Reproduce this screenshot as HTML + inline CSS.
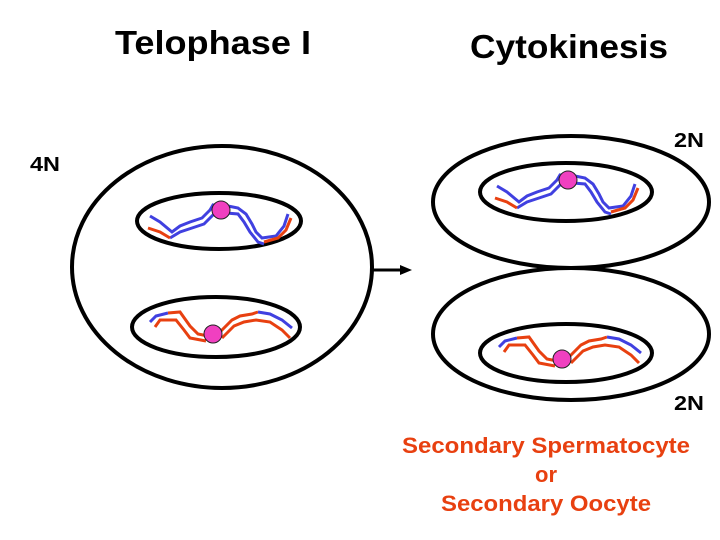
<!DOCTYPE html>
<html><head><style>body{margin:0;background:#fff}svg{display:block}</style></head><body>
<svg width="720" height="540" viewBox="0 0 720 540" font-family="Liberation Sans, Arial, sans-serif">
<defs>
<g id="chrA">
<path d="M150,216 L160,222 L172,232 L180,226 L190,222 L202,218 L210,210 L213,205 L222,207" fill="none" stroke="#4040e0" stroke-width="3"/>
<path d="M170,238 L180,232 L192,228 L204,224 L214,214 L222,212" fill="none" stroke="#4040e0" stroke-width="3"/>
<path d="M228,206 L238,208 L246,214 L252,224 L256,232 L262,238 L276,236 L284,226 L288,214" fill="none" stroke="#4040e0" stroke-width="3"/>
<path d="M226,213 L238,214 L244,222 L250,232 L258,242 L264,244" fill="none" stroke="#4040e0" stroke-width="3"/>
<path d="M148,228 L160,232 L170,238" fill="none" stroke="#e84010" stroke-width="3"/>
<path d="M264,242 L278,238 L286,230 L291,218" fill="none" stroke="#e84010" stroke-width="3"/>
<circle cx="221" cy="210" r="9" fill="#f040c0" stroke="#222" stroke-width="1"/>
</g>
<g id="chrB">
<path d="M150,322 L156,316 L168,313" fill="none" stroke="#4040e0" stroke-width="3"/>
<path d="M155,327 L160,320 L176,320 L184,330 L190,338 L206,341" fill="none" stroke="#e84010" stroke-width="3"/>
<path d="M168,313 L180,312 L190,326 L198,334 L208,336" fill="none" stroke="#e84010" stroke-width="3"/>
<path d="M220,332 L232,320 L240,316 L252,314 L258,312" fill="none" stroke="#e84010" stroke-width="3"/>
<path d="M222,338 L234,326 L244,322 L256,320 L270,322 L282,330 L290,338" fill="none" stroke="#e84010" stroke-width="3"/>
<path d="M258,312 L270,314 L282,320 L292,328" fill="none" stroke="#4040e0" stroke-width="3"/>
<circle cx="213" cy="334" r="9" fill="#f040c0" stroke="#222" stroke-width="1"/>
</g>
</defs>
<g font-weight="bold">
<text x="115" y="54" font-size="33" textLength="196" lengthAdjust="spacingAndGlyphs">Telophase I</text>
<text x="470" y="58" font-size="33" textLength="198" lengthAdjust="spacingAndGlyphs">Cytokinesis</text>
<text x="30" y="171" font-size="20" textLength="30" lengthAdjust="spacingAndGlyphs">4N</text>
<text x="674" y="147" font-size="20" textLength="30" lengthAdjust="spacingAndGlyphs">2N</text>
<text x="674" y="410" font-size="20" textLength="30" lengthAdjust="spacingAndGlyphs">2N</text>
</g>
<g fill="none" stroke="#000" stroke-width="4">
<ellipse cx="222" cy="267" rx="150" ry="121"/>
<ellipse cx="219" cy="221" rx="82" ry="28"/>
<ellipse cx="216" cy="327" rx="84" ry="30"/>
<ellipse cx="571" cy="202" rx="138" ry="66"/>
<ellipse cx="571" cy="334" rx="138" ry="66"/>
<ellipse cx="566" cy="192" rx="86" ry="29"/>
<ellipse cx="566" cy="353" rx="86" ry="29"/>
</g>
<line x1="373" y1="270" x2="402" y2="270" stroke="#000" stroke-width="3"/>
<polygon points="400,265 412,270 400,275" fill="#000"/>
<use href="#chrA"/>
<use href="#chrB"/>
<use href="#chrA" transform="translate(347,-30)"/>
<use href="#chrB" transform="translate(349,25)"/>
<g fill="#e84010" font-size="22" font-weight="bold" text-anchor="middle">
<text x="546" y="453" textLength="288" lengthAdjust="spacingAndGlyphs">Secondary Spermatocyte</text>
<text x="546" y="482">or</text>
<text x="546" y="511" textLength="210" lengthAdjust="spacingAndGlyphs">Secondary Oocyte</text>
</g>
</svg>
</body></html>
